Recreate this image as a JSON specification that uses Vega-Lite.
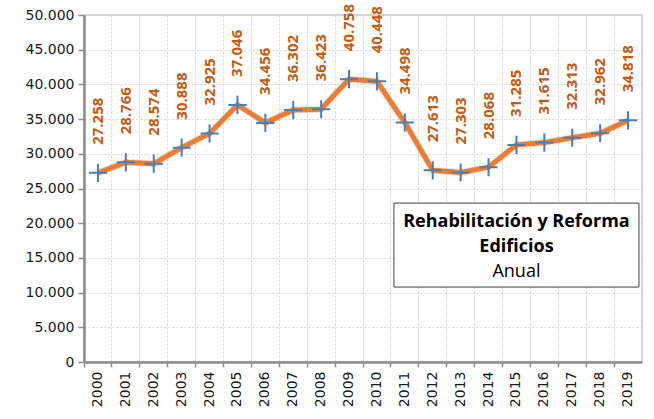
{
  "$schema": "https://vega.github.io/schema/vega-lite/v6.json",
  "autosize": "none",
  "width": 558,
  "height": 347,
  "padding": {"left": 84, "top": 15, "right": 12, "bottom": 57},
  "background": "white",
  "config": {
    "locale": {"number": {"decimal": ",", "thousands": ".", "grouping": [3], "currency": ["", " €"]}},
    "view": {"stroke": "#c8c8c8", "strokeWidth": 1.5},
    "font": "DejaVu Sans",
    "axisX": {"title": null, "labelAngle": -90, "labelAlign": "right", "labelBaseline": "middle", "labelFontSize": 14, "labelColor": "#1a1a1a", "labelPadding": 4,
      "bandPosition": 0, "grid": true, "gridColor": "#d4d4d4", "gridDash": [2, 2], "gridWidth": 1,
      "domainColor": "#8c8c8c", "domainWidth": 2.5, "tickColor": "#8c8c8c", "tickSize": 5, "tickWidth": 1.5},
    "axisY": {"title": null, "tickCount": 10, "labelFontSize": 14, "labelColor": "#1a1a1a", "labelPadding": 4,
      "grid": true, "gridColor": "#d4d4d4", "gridDash": [2, 2], "gridWidth": 1,
      "domainColor": "#8c8c8c", "domainWidth": 2.5, "tickColor": "#8c8c8c", "tickSize": 6, "tickWidth": 1.5}
  },
  "datasets": {
    "box": [{"yr": "2015", "top": 22900, "bottom": 10800}]
  },
  "data": {"values": [
    {"year": "2000", "value": 27258},
    {"year": "2001", "value": 28766},
    {"year": "2002", "value": 28574},
    {"year": "2003", "value": 30888},
    {"year": "2004", "value": 32925},
    {"year": "2005", "value": 37046},
    {"year": "2006", "value": 34456},
    {"year": "2007", "value": 36302},
    {"year": "2008", "value": 36423},
    {"year": "2009", "value": 40758},
    {"year": "2010", "value": 40448},
    {"year": "2011", "value": 34498},
    {"year": "2012", "value": 27613},
    {"year": "2013", "value": 27303},
    {"year": "2014", "value": 28068},
    {"year": "2015", "value": 31285},
    {"year": "2016", "value": 31615},
    {"year": "2017", "value": 32313},
    {"year": "2018", "value": 32962},
    {"year": "2019", "value": 34818}
  ]},
  "encoding": {
    "x": {"field": "year", "type": "ordinal", "scale": {"type": "band", "paddingInner": 0, "paddingOuter": 0}},
    "y": {"field": "value", "type": "quantitative", "scale": {"domain": [0, 50000], "nice": false}}
  },
  "layer": [
    {"mark": {"type": "line", "color": "#9a9a9a", "strokeWidth": 7, "opacity": 0.25, "strokeJoin": "round"}},
    {"mark": {"type": "line", "color": "#ED7D31", "strokeWidth": 5, "strokeJoin": "miter"}},
    {"mark": {"type": "point", "shape": "M-1,0L1,0M0,-1L0,1", "filled": false, "stroke": "#4A7EBB", "strokeWidth": 2, "size": 330, "opacity": 1}},
    {"mark": {"type": "text", "angle": -90, "align": "left", "baseline": "middle", "dx": 28, "font": "Open Sans", "fontWeight": 700, "fontSize": 15, "color": "#C55A11"},
      "encoding": {"text": {"field": "value", "type": "quantitative", "format": ",.0f"}}},
    {"data": {"name": "box"},
      "mark": {"type": "rect", "fill": "white", "stroke": "#404040", "strokeWidth": 1, "width": 245},
      "encoding": {
        "x": {"field": "yr", "type": "ordinal"},
        "y": {"field": "top", "type": "quantitative"},
        "y2": {"field": "bottom"}
      }},
    {"data": {"values": [
        {"yr": "2015", "t": "Rehabilitación y Reforma", "v": 20200},
        {"yr": "2015", "t": "Edificios", "v": 16500}
      ]},
      "mark": {"type": "text", "font": "Open Sans", "fontSize": 18, "fontWeight": 700, "color": "#000", "baseline": "middle", "align": "center"},
      "encoding": {
        "x": {"field": "yr", "type": "ordinal"},
        "y": {"field": "v", "type": "quantitative"},
        "text": {"field": "t"}
      }},
    {"data": {"values": [
        {"yr": "2015", "t": "Anual", "v": 12900}
      ]},
      "mark": {"type": "text", "font": "Open Sans", "fontSize": 18, "fontWeight": 400, "color": "#000", "baseline": "middle", "align": "center"},
      "encoding": {
        "x": {"field": "yr", "type": "ordinal"},
        "y": {"field": "v", "type": "quantitative"},
        "text": {"field": "t"}
      }}
  ]
}
